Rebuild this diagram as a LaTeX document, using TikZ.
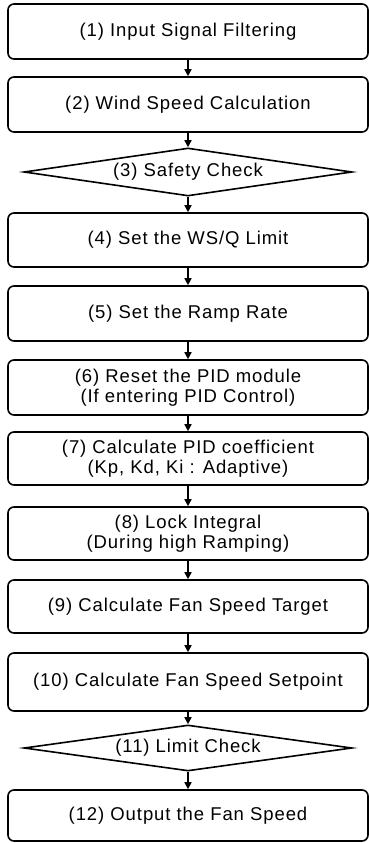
\documentclass[tikz,border=0pt]{standalone}
\usepackage{fontspec}
\setmainfont[LetterSpace=5]{Liberation Sans}
\usetikzlibrary{shapes.geometric,arrows.meta}
\begin{document}
\begin{tikzpicture}[x=1pt,y=-1pt,
  box/.style={draw, rounded corners=6pt, line width=1.6pt, minimum width=360pt,
    align=center, inner sep=0pt, font=\fontsize{18.5}{20}\selectfont},
  dia/.style={draw, diamond, line width=1.6pt, minimum width=328pt, minimum height=48pt,
    inner sep=0pt, aspect=7, font=\fontsize{18.5}{20}\selectfont},
  arr/.style={-{Triangle[length=7pt,width=7pt]}, line width=1.6pt}]
\useasboundingbox (0,0) rectangle (369,843);
\node[box, minimum height=55pt] (b1) at (188,31.5) {(1) Input Signal Filtering};
\node[box, minimum height=55pt] (b2) at (188,104.5) {(2) Wind Speed Calculation};
\node[dia] (d3) at (188,172) {(3) Safety Check};
\node[box, minimum height=54pt] (b4) at (188,240) {(4) Set the WS/Q Limit};
\node[box, minimum height=55pt] (b5) at (188,313.5) {(5) Set the Ramp Rate};
\node[box, minimum height=55pt] (b6) at (188,387.5) {(6) Reset the PID module\\(If entering PID Control)};
\node[box, minimum height=53pt] (b7) at (188,458.5) {(7) Calculate PID coefficient\\(Kp, Kd, Ki : Adaptive)};
\node[box, minimum height=53pt] (b8) at (188,533.5) {(8) Lock Integral\\(During high Ramping)};
\node[box, minimum height=53pt] (b9) at (188,606.5) {(9) Calculate Fan Speed Target};
\node[box, minimum height=58pt] (b10) at (188,682) {(10) Calculate Fan Speed Setpoint};
\node[dia, minimum height=46pt] (d11) at (188,748) {(11) Limit Check};
\node[box, minimum height=51pt] (b12) at (188,815.5) {(12) Output the Fan Speed};
\draw[arr] (b1) -- (b2);
\draw[arr] (b2) -- (d3);
\draw[arr] (d3) -- (b4);
\draw[arr] (b4) -- (b5);
\draw[arr] (b5) -- (b6);
\draw[arr] (b6) -- (b7);
\draw[arr] (b7) -- (b8);
\draw[arr] (b8) -- (b9);
\draw[arr] (b9) -- (b10);
\draw[arr] (b10) -- (d11);
\draw[arr] (d11) -- (b12);
\end{tikzpicture}
\end{document}
